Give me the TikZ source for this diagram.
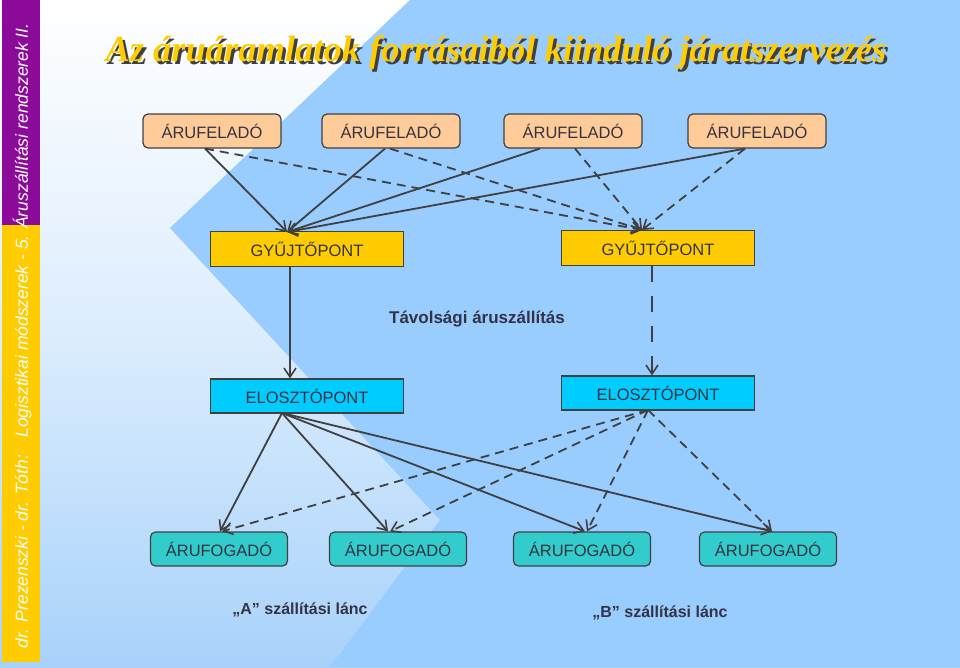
\documentclass[tikz,border=0pt]{standalone}
\usepackage{fontspec}
\setmainfont{Liberation Sans}
\newfontfamily\titlefont{Liberation Serif}
\usetikzlibrary{arrows.meta}
\definecolor{lbg}{HTML}{A8D2FB}
\definecolor{poly}{HTML}{99CCFF}
\definecolor{ln}{HTML}{404040}
\definecolor{feladfill}{HTML}{FFCC99}
\definecolor{gyfill}{HTML}{FFCC00}
\definecolor{elfill}{HTML}{00CCFF}
\definecolor{fogfill}{HTML}{33CCCC}
\definecolor{barpurple}{HTML}{8B0A9A}
\definecolor{baryellow}{HTML}{FFCC00}
\definecolor{txt}{HTML}{333344}
\tikzset{
  box/.style={draw=ln,line width=1.2pt,text=txt,font=\fontsize{16.5}{16.5}\selectfont,inner sep=0pt},
  felad/.style={box,fill=feladfill,rounded corners=5pt,minimum width=138pt,minimum height=34pt},
  fog/.style={box,fill=fogfill,rounded corners=5pt,minimum width=137pt,minimum height=34pt},
  gy/.style={box,fill=gyfill,minimum width=193pt,minimum height=35pt},
  el/.style={box,fill=elfill,minimum width=193pt,minimum height=34pt},
  arr/.style={draw=ln,line width=1.8pt,-{Straight Barb[length=9pt,width=12pt,line width=1.6pt]}},
  darr/.style={arr,dash pattern=on 9pt off 6pt},
  lbl/.style={text=txt,font=\fontsize{17}{17}\selectfont\bfseries}
}
\begin{document}
\begin{tikzpicture}[x=1pt,y=-1pt]
\useasboundingbox (0,0) rectangle (960,667);
\shade[top color=white,bottom color=lbg,middle color=lbg!40] (0,0) rectangle (960,667);
\fill[poly] (410,0) -- (960,0) -- (960,667) -- (330,667) -- (440,520) -- (170,228) -- cycle;
\fill[barpurple] (2,0) rectangle (40,225);
\fill[baryellow] (2,225) rectangle (40,662);
\node[rotate=90,anchor=west,text=white,font=\fontsize{17.5}{17.5}\selectfont\itshape] (bar) at (22,652) {dr. Prezenszki - dr. Tóth:\quad Logisztikai módszerek - 5. Áruszállítási rendszerek II.};
\node[anchor=west,text=black!75,font=\titlefont\fontsize{36.5}{36.5}\selectfont\bfseries\itshape] (tsh) at (105,56) {Az áruáramlatok forrásaiból kiinduló járatszervezés};
\node[anchor=west,text=gyfill,font=\titlefont\fontsize{36.5}{36.5}\selectfont\bfseries\itshape] (title) at (102,53) {Az áruáramlatok forrásaiból kiinduló járatszervezés};

\node[felad] (f1) at (212,131) {ÁRUFELADÓ};
\node[felad] (f2) at (391,131) {ÁRUFELADÓ};
\node[felad] (f3) at (573,131) {ÁRUFELADÓ};
\node[felad] (f4) at (757,131) {ÁRUFELADÓ};
\node[gy] (g1) at (307,249) {GYŰJTŐPONT};
\node[gy] (g2) at (658,248) {GYŰJTŐPONT};
\node[el] (e1) at (307,396) {ELOSZTÓPONT};
\node[el] (e2) at (658,393) {ELOSZTÓPONT};
\node[fog] (a1) at (219,549) {ÁRUFOGADÓ};
\node[fog] (a2) at (398,549) {ÁRUFOGADÓ};
\node[fog] (a3) at (582,549) {ÁRUFOGADÓ};
\node[fog] (a4) at (768,549) {ÁRUFOGADÓ};
\node[lbl] (tav) at (477,319) {Távolsági áruszállítás};
\node[lbl,font=\fontsize{16}{16}\selectfont\bfseries] (la) at (300,610) {„A” szállítási lánc};
\node[lbl,font=\fontsize{16}{16}\selectfont\bfseries] (lb) at (660,613) {„B” szállítási lánc};

\coordinate (g1t) at (287,232);
\coordinate (g2t) at (642,230);
\foreach \s/\x in {f1/205,f2/385,f3/540,f4/745}{
  \draw[arr] (\s.south -| \x,0) -- (g1t);
}
\foreach \s/\x in {f1/205,f2/390,f3/575,f4/745}{
  \draw[darr] (\s.south -| \x,0) -- (g2t);
}
\draw[arr] (g1.south -| 290,0) -- (e1.north -| 290,0);
\draw[arr,dash pattern=on 16pt off 14pt,line width=2.5pt] (g2.south -| 652,0) -- (e2.north -| 652,0);
\coordinate (e1b) at (282,413);
\coordinate (e2b) at (648,410);
\foreach \t/\x in {a1/220,a2/388,a3/585,a4/772}{
  \draw[arr] (e1b) -- (\t.north -| \x,0);
}
\foreach \t/\x in {a1/222,a2/390,a3/587,a4/772}{
  \draw[darr] (e2b) -- (\t.north -| \x,0);
}
\end{tikzpicture}
\end{document}
